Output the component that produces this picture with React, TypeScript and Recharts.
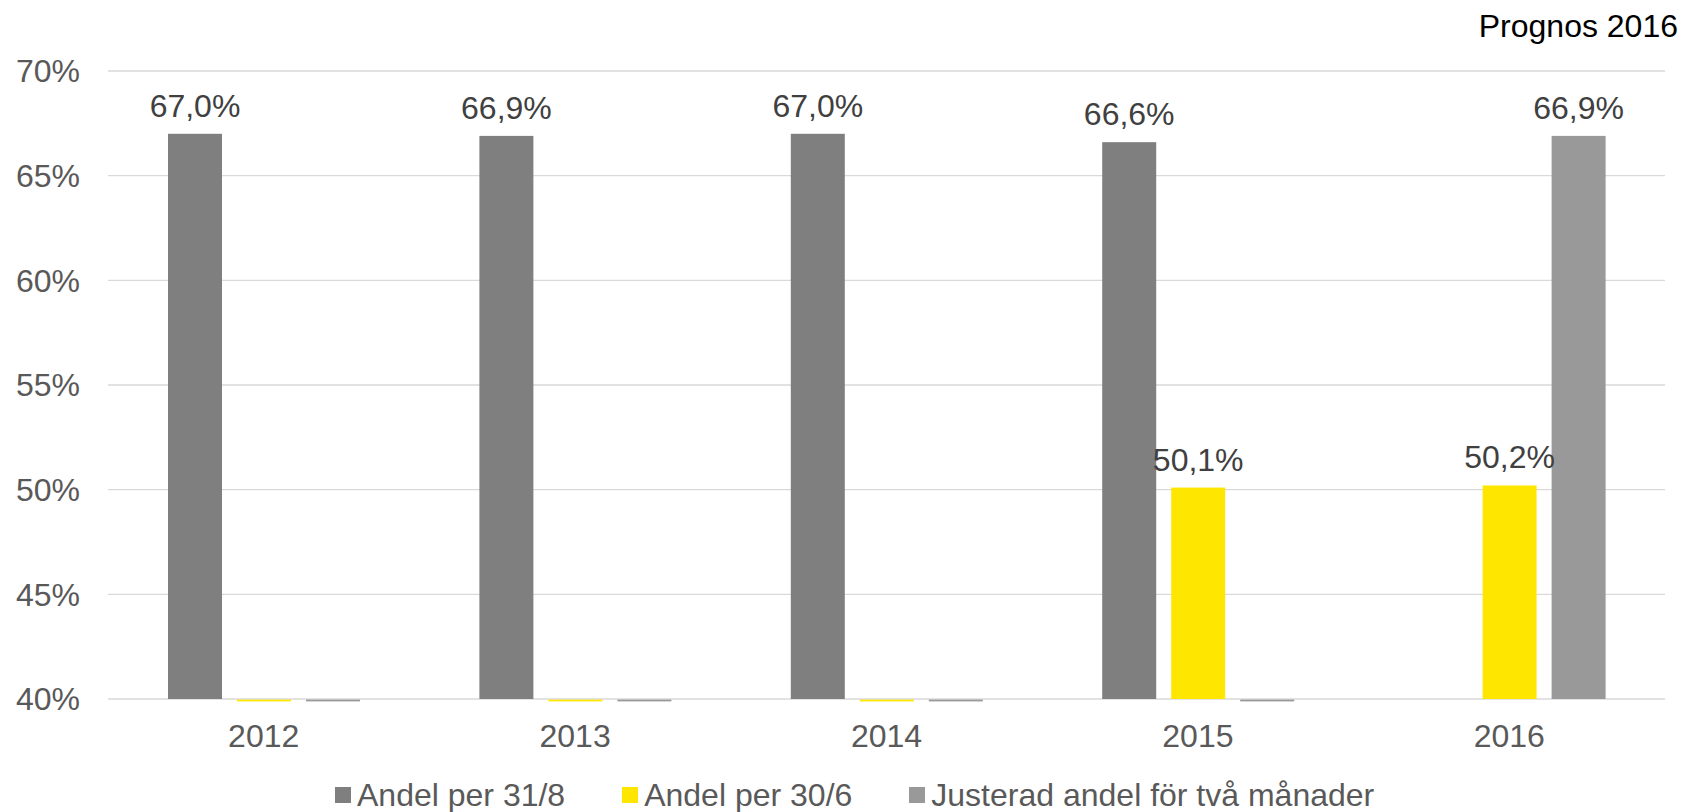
import React from 'react';
import { BarChart, Bar, XAxis, YAxis, CartesianGrid, Legend, LabelList } from 'recharts';

const years = ['2012', '2013', '2014', '2015', '2016'];
const andelPer318: (number | null)[] = [67.0, 66.9, 67.0, 66.6, null];
const andelPer306: (number | null)[] = [0, 0, 0, 50.1, 50.2];
const justeradAndel: (number | null)[] = [0, 0, 0, 0, 66.9];
const yTicks = [40, 45, 50, 55, 60, 65, 70];
const seriesKeys = ['a318', 'a306', 'just'];
const seriesNames = ['Andel per 31/8', 'Andel per 30/6', 'Justerad andel för två månader'];
const seriesColors = ['#7f7f7f', '#ffe600', '#999999'];
const cornerNote = 'Prognos 2016';

const AXIS_MIN = 40;
const AXIS_MAX = 70;
const FONT = '"Liberation Sans", Arial, sans-serif';
const FS = 32;

const data = years.map((year, i) => ({
  year,
  a318: andelPer318[i],
  a306: andelPer306[i],
  just: justeradAndel[i],
}));

const fmtPct = (v: number) => `${v.toFixed(1).replace('.', ',')}%`;

const makeShape = (key: string, color: string) => (props: any) => {
  const { x, y, width, height, payload } = props;
  const raw = payload ? payload[key] : null;
  if (raw == null) return <g />;
  if (raw < AXIS_MIN) {
    const base = Number(y) + Number(height);
    return <rect x={x} y={base + 0.6} width={width} height={1.8} fill={color} />;
  }
  return <rect x={x} y={y} width={width} height={height} fill={color} />;
};

const renderLabel = (props: any) => {
  const { x, y, width, value } = props;
  if (value == null || Number(value) <= AXIS_MIN) return null;
  return (
    <text
      x={Number(x) + Number(width) / 2}
      y={Number(y) - 17}
      textAnchor="middle"
      fill="#404040"
      fontSize={FS}
      fontFamily={FONT}
    >
      {fmtPct(Number(value))}
    </text>
  );
};

const renderLegend = () => (
  <div
    style={{
      display: 'flex',
      alignItems: 'center',
      height: 32,
      lineHeight: '32px',
      paddingLeft: 335,
      fontFamily: FONT,
      fontSize: FS,
      color: '#595959',
      whiteSpace: 'nowrap',
    }}
  >
    {seriesNames.map((name, i) => (
      <div key={name} style={{ display: 'flex', alignItems: 'center', marginRight: 57 }}>
        <div style={{ width: 16, height: 16, background: seriesColors[i], marginRight: 6 }} />
        <span>{name}</span>
      </div>
    ))}
  </div>
);

export default function App() {
  return (
    <div style={{ position: 'absolute', left: 0, top: 0, width: 1682, height: 812, background: '#fff' }}>
      <BarChart
        width={1682}
        height={812}
        data={data}
        margin={{ top: 71, right: 17, bottom: 1, left: 0 }}
        barSize={54}
        barGap={15}
      >
        <CartesianGrid horizontal vertical={false} stroke="#d9d9d9" strokeWidth={1.4} />
        <XAxis
          dataKey="year"
          axisLine={false}
          tickLine={false}
          tickSize={0}
          tickMargin={25}
          height={80}
          tick={{ fill: '#595959', fontSize: FS, fontFamily: FONT }}
        />
        <YAxis
          type="number"
          domain={[AXIS_MIN, AXIS_MAX]}
          ticks={yTicks}
          tickFormatter={(v: number) => `${v}%`}
          axisLine={false}
          tickLine={false}
          tickSize={0}
          tickMargin={28}
          width={108}
          tick={{ fill: '#595959', fontSize: FS, fontFamily: FONT }}
        />
        <Legend
          verticalAlign="bottom"
          content={renderLegend}
          wrapperStyle={{ left: 0, width: 1682 }}
        />
        {seriesKeys.map((key, i) => (
          <Bar
            key={key}
            name={seriesNames[i]}
            dataKey={(d: any) => (d[key] == null ? null : Math.max(d[key], AXIS_MIN))}
            fill={seriesColors[i]}
            shape={makeShape(key, seriesColors[i])}
            isAnimationActive={false}
          >
            <LabelList content={renderLabel} />
          </Bar>
        ))}
      </BarChart>
      <div
        style={{
          position: 'absolute',
          top: 10,
          right: 4,
          fontFamily: FONT,
          fontSize: FS,
          lineHeight: '32px',
          color: '#000',
          textAlign: 'right',
          whiteSpace: 'nowrap',
        }}
      >
        {cornerNote}
      </div>
    </div>
  );
}
